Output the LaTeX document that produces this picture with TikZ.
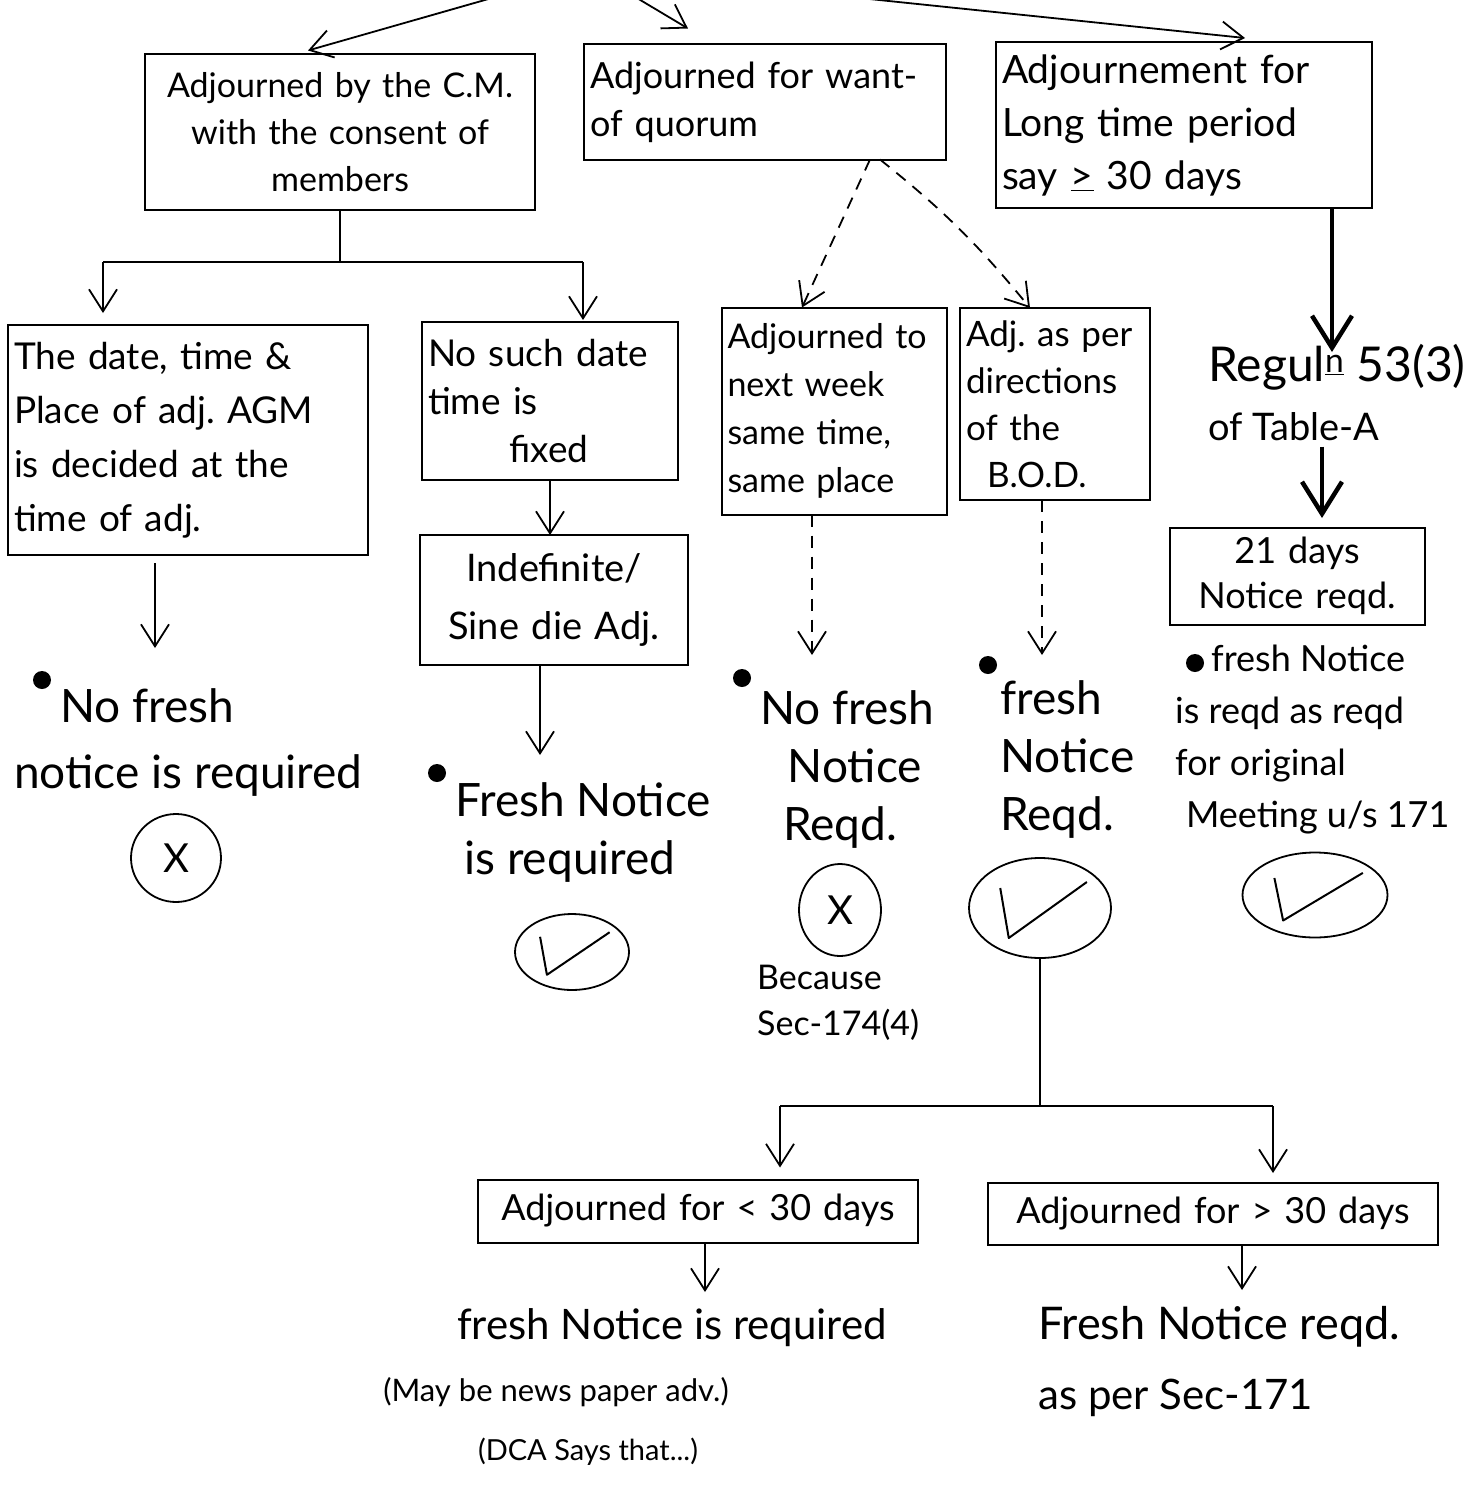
\documentclass[tikz,border=0pt]{standalone}
\usepackage{fontspec}
\setmainfont{Lato}
\frenchspacing
\usetikzlibrary{arrows.meta,shapes.geometric,calc}
% tick drawn inside an ellipse node: #1 node, #2 width, #3 height
\newcommand{\tickmark}[3]{%
  \draw[tick] ($(#1.center)+(-#2*0.28,-#3*0.20)$) -- ($(#1.center)+(-#2*0.22,#3*0.30)$) -- ($(#1.center)+(#2*0.33,-#3*0.26)$);}
\begin{document}
\begin{tikzpicture}[x=1pt,y=-1pt,
  box/.style={draw, line width=2pt, inner sep=6pt, outer sep=0pt},
  arr/.style={line width=1.8pt, -{Straight Barb[length=22pt,width=28pt,line width=1.8pt]}},
  darr/.style={arr, dash pattern=on 12pt off 9pt},
  tarr/.style={line width=4.5pt, -{Straight Barb[length=32pt,width=40pt,line width=4.5pt]}},
  plain/.style={line width=1.8pt},
  dot/.style={circle, fill, inner sep=0pt, minimum size=18pt},
  ring/.style={draw, ellipse, line width=1.8pt, inner sep=0pt},
  tick/.style={line width=2pt, line join=round},
  txt/.style={inner sep=0pt, align=left},
]
\useasboundingbox (0,0) rectangle (1481,1488);
\clip (0,0) rectangle (1481,1488);

% ---------- top row ----------
\coordinate (src) at (590,-30);
\node[box, text width=378pt, minimum height=155pt, align=center,
      font=\fontsize{34}{47}\selectfont] (b1) at (340,132)
  {Adjourned by the C.M.\\ with the consent of\\ members};
\node[box, text width=350pt, minimum height=115pt, align=left,
      font=\fontsize{36}{48}\selectfont] (b2) at (765,102)
  {Adjourned for want-\\ of quorum};
\node[box, text width=364pt, minimum height=166pt, align=left,
      font=\fontsize{39}{53}\selectfont] (b3) at (1184,125)
  {Adjournement for\\ Long time period\\ say \underline{>} 30 days};

\draw[arr] (src) -- ($(b1.north)+(-32,-4)$);
\draw[arr] (src) -- ($(b2.north)+(-77,-16)$);
\draw[arr] (src) -- ($(b3.north)+(61,-4)$);

% ---------- branch under b1 ----------
\node[box, text width=348pt, minimum height=230pt, align=left,
      font=\fontsize{37}{54}\selectfont] (b4) at (188,440)
  {The date, time \&\\ Place of adj. AGM\\ is decided at the\\ time of adj.};
\node[box, text width=244pt, minimum height=158pt, align=left,
      font=\fontsize{37}{48}\selectfont] (b5) at (550,401)
  {No such date\\ time is\\ \hspace*{2.2em}fixed};
\node[box, text width=256pt, minimum height=130pt, align=center,
      font=\fontsize{38}{58}\selectfont] (b6) at (554,600)
  {Indefinite/\\ Sine die Adj.};

\coordinate (sL) at (103,262);
\coordinate (sR) at (583,262);
\draw[plain] (b1.south) -- (b1.south |- sL);
\draw[plain] (sL) -- (sR);
\draw[arr, shorten >=12pt] (sL) -- (sL |- b4.north);
\draw[arr, shorten >=2pt] (sR) -- (sR |- b5.north);
\draw[arr] (b5.south) -- (b5.south |- b6.north);

% outcome under b4
\coordinate (e1) at (155,648);
\draw[arr] ($(b4.south -| e1)+(0,8)$) -- (e1);
\node[dot] (d1) at (42,680) {};
\node[txt, anchor=north west, font=\fontsize{46}{66}\selectfont] (o1) at (14,688)
  {\hspace*{1.0em}No fresh\\ notice is required};
\node[ring, minimum width=90pt, minimum height=88pt,
      font=\fontsize{40}{42}\selectfont] (x1) at (176,858) {X};

% outcome under b6
\coordinate (e2) at (540,755);
\draw[arr] (b6.south -| e2) -- (e2);
\node[dot] (d2) at (437,773) {};
\node[txt, anchor=north west, font=\fontsize{46}{58}\selectfont] (o2) at (455,782)
  {Fresh Notice\\ \hspace*{0.2em}is required};
\node[ring, minimum width=114pt, minimum height=76pt] (c2) at (572,952) {};
\tickmark{c2}{114}{76}

% ---------- branch under b2 ----------
\node[box, text width=213pt, minimum height=207pt, align=left,
      font=\fontsize{34}{48}\selectfont] (b7) at (834,411)
  {Adjourned to\\ next week\\ same time,\\ same place};
\node[box, text width=178pt, minimum height=192pt, align=left,
      font=\fontsize{35}{47}\selectfont] (b8) at (1055,404)
  {Adj. as per\\ directions\\ of the\\ \hspace*{0.6em}B.O.D.};

\draw[darr] ($(b2.south)+(105,0)$) -- ($(b7.north)+(-32,0)$);
\draw[darr] ($(b2.south)+(115,0)$) to[bend left=6] ($(b8.north)+(-25,0)$);

\coordinate (e3) at (812,655);
\coordinate (e4) at (1042,655);
\draw[darr] (b7.south -| e3) -- (e3);
\draw[darr] (b8.south -| e4) -- (e4);

\node[dot] (d3) at (742,678) {};
\node[txt, anchor=north west, font=\fontsize{46}{58}\selectfont] (o3) at (760,690)
  {No fresh\\ \hspace*{0.6em}Notice\\ \hspace*{0.5em}Reqd.};
\node[ring, minimum width=82pt, minimum height=92pt,
      font=\fontsize{40}{42}\selectfont] (x3) at (840,910) {X};
\node[txt, anchor=north west, font=\fontsize{34}{46}\selectfont] (bc) at (757,965)
  {Because\\ Sec-174(4)};

\node[dot] (d4) at (988,665) {};
\node[txt, anchor=north west, font=\fontsize{46}{58}\selectfont] (o4) at (1000,680)
  {fresh\\ Notice\\ Reqd.};
\node[ring, minimum width=142pt, minimum height=100pt] (c4) at (1040,908) {};
\tickmark{c4}{142}{100}

% ---------- split under the second tick ----------
\coordinate (jl) at (780,1106);
\coordinate (jr) at (1273,1106);
\draw[plain] (c4.south) -- (c4.south |- jl);
\draw[plain] (jl) -- (jr);

\node[box, text width=428pt, minimum height=63pt, align=center,
      font=\fontsize{36}{40}\selectfont] (b9) at (698,1211)
  {Adjourned for < 30 days};
\node[box, text width=438pt, minimum height=62pt, align=center,
      font=\fontsize{36}{40}\selectfont] (b10) at (1213,1214)
  {Adjourned for > 30 days};
\draw[arr, shorten >=12pt] (jl) -- (jl |- b9.north);
\draw[arr, shorten >=10pt] (jr) -- (jr |- b10.north);

\coordinate (e7) at (705,1292);
\coordinate (e8) at (1242,1290);
\draw[arr] (b9.south -| e7) -- (e7);
\draw[arr] (b10.south -| e8) -- (e8);

\node[inner sep=0pt, font=\fontsize{42}{44}\selectfont] (t9a) at (672,1328) {fresh Notice is required};
\node[inner sep=0pt, font=\fontsize{31}{34}\selectfont] (t9b) at (556,1392) {(May be news paper adv.)};
\node[inner sep=0pt, font=\fontsize{29}{32}\selectfont] (t9c) at (588,1452) {(DCA Says that...)};
\node[txt, anchor=north west, font=\fontsize{45}{70}\selectfont] (t10) at (1038,1306)
  {Fresh Notice reqd.\\ {\fontsize{42}{44}\selectfont as per Sec-171}};

% ---------- branch under b3 ----------
\coordinate (e5) at (1332,352);
\draw[tarr] (b3.south -| e5) -- (e5);
\node[txt, anchor=north west, font=\fontsize{48}{50}\selectfont] (r1) at (1208,344)
  {Regul\textsuperscript{\underline{n}} 53(3)};
\node[txt, anchor=north west, font=\fontsize{38}{40}\selectfont] (r2) at (1208,412)
  {of Table-A};
\coordinate (e6) at (1322,518);
\draw[tarr] ($(r2.south -| e6)+(0,6)$) -- (e6);

\node[box, text width=243pt, minimum height=97pt, align=center,
      font=\fontsize{36}{45}\selectfont] (b11) at (1297,576)
  {21 days\\ Notice reqd.};
\node[dot] (d5) at (1195,663) {};
\node[txt, anchor=north west, font=\fontsize{36}{52}\selectfont] (o5) at (1175,645)
  {\hspace*{1.0em}fresh Notice\\ is reqd as reqd\\ for original\\ \hspace*{0.3em}Meeting u/s 171};
\node[ring, minimum width=145pt, minimum height=85pt] (c5) at (1315,895) {};
\tickmark{c5}{145}{85}
\end{tikzpicture}
\end{document}
